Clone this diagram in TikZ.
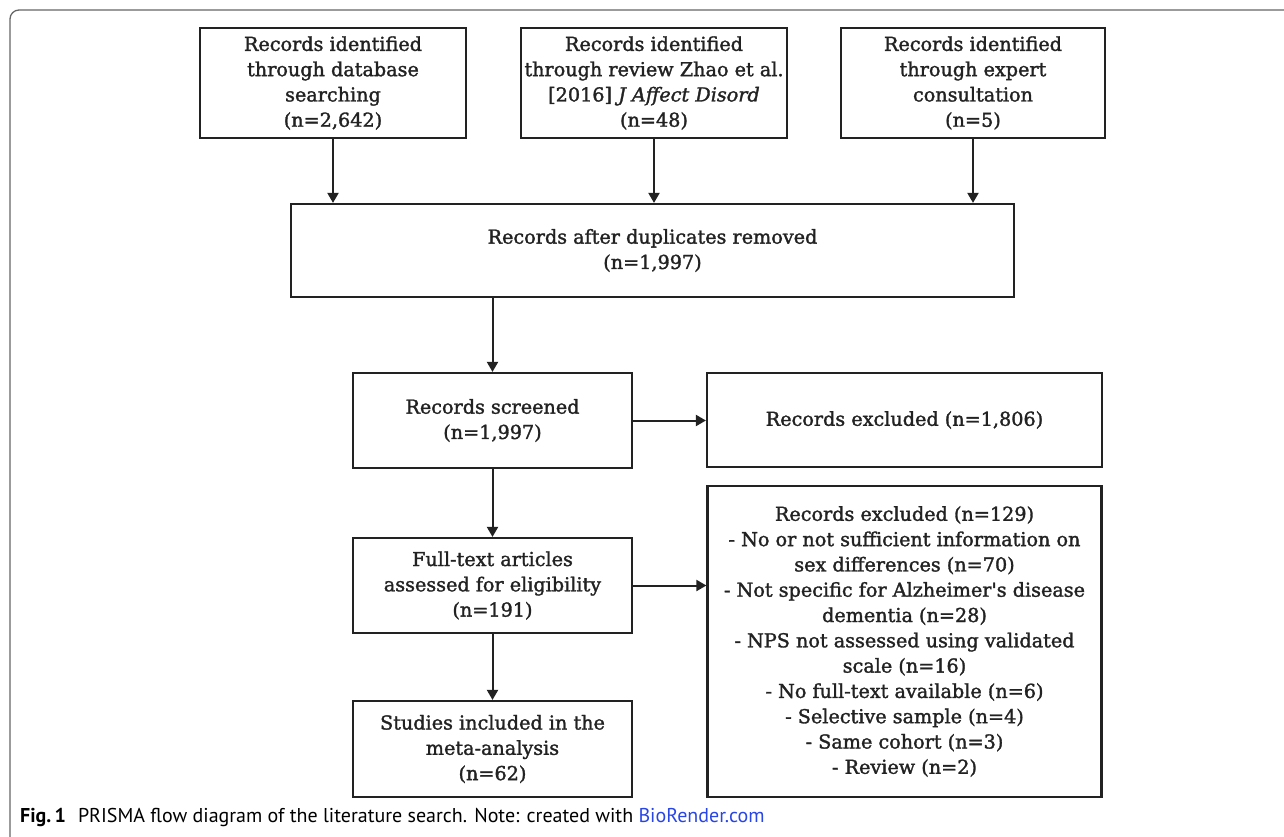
\documentclass[tikz,border=0pt]{standalone}
\usepackage{fontspec}
\setmainfont{DejaVu Serif}
\newfontfamily\boxfont{DejaVu Serif}[BoldFont={DejaVu Serif}, BoldFeatures={FakeBold=1.6},
  BoldItalicFont={DejaVu Serif Italic}, BoldItalicFeatures={FakeBold=1.6}]
\newfontfamily\capfont{PT Sans}
\usetikzlibrary{arrows.meta}
\definecolor{boxline}{HTML}{222222}
\definecolor{framecol}{HTML}{666666}
\definecolor{linkblue}{RGB}{40,70,230}
\tikzset{
  pbox/.style={draw=boxline, line width=2.2pt, align=center, inner sep=0pt,
    font=\boxfont\bfseries\fontsize{19.2}{25.3}\selectfont, text=boxline},
  flow/.style={draw=boxline, line width=2pt, -{Triangle[width=11pt,length=10pt]}}
}
\begin{document}
\begin{tikzpicture}[x=1pt,y=-1pt]
\useasboundingbox (0,0) rectangle (1284,837);
\draw[framecol, line width=1.3pt, rounded corners=9pt] (10,837) -- (10,10) -- (1284,10);

\node[pbox, minimum width=266pt, minimum height=110pt] (t1) at (333,83)
  {Records identified\\through database\\searching\\(n=2,642)};
\node[pbox, minimum width=266pt, minimum height=110pt] (t2) at (654,83)
  {Records identified\\through review Zhao et al.\\{[2016]} \textit{J Affect Disord}\\(n=48)};
\node[pbox, minimum width=264pt, minimum height=110pt] (t3) at (973,83)
  {Records identified\\through expert\\consultation\\(n=5)};
\node[pbox, minimum width=723pt, minimum height=93pt] (dup) at (652.5,250.5)
  {Records after duplicates removed\\(n=1,997)};
\node[pbox, minimum width=279pt, minimum height=95pt] (scr) at (492.5,420.5)
  {Records screened\\(n=1,997)};
\node[pbox, minimum width=395pt, minimum height=94pt] (ex1) at (904.5,420)
  {Records excluded (n=1,806)};
\node[pbox, minimum width=279pt, minimum height=95pt] (full) at (492.5,585.5)
  {Full-text articles\\assessed for eligibility\\(n=191)};
\node[pbox, minimum width=394pt, minimum height=311pt] (ex2) at (904.5,641.5)
  {Records excluded (n=129)\\- No or not sufficient information on\\sex differences (n=70)\\- Not specific for Alzheimer's disease\\dementia (n=28)\\- NPS not assessed using validated\\scale (n=16)\\- No full-text available (n=6)\\- Selective sample (n=4)\\- Same cohort (n=3)\\- Review (n=2)};
\node[pbox, minimum width=279pt, minimum height=96pt] (stud) at (492.5,749)
  {Studies included in the\\meta-analysis\\(n=62)};

\draw[flow] (t1.south) -- (t1.south |- dup.north);
\draw[flow] (t2.south) -- (t2.south |- dup.north);
\draw[flow] (t3.south) -- (t3.south |- dup.north);
\draw[flow] (dup.south -| scr.north) -- (scr.north);
\draw[flow] (scr.east) -- (scr.east -| ex1.west);
\draw[flow] (scr.south) -- (full.north);
\draw[flow] (full.east) -- (full.east -| ex2.west);
\draw[flow] (full.south) -- (stud.north);

\node[anchor=west, inner sep=0pt, font=\capfont\fontsize{20}{23}\selectfont] (cap) at (20,817)
  {\textbf{Fig.\,1}\hspace{0.6em}PRISMA flow diagram of the literature search. Note: created with \textcolor{linkblue}{BioRender.com}};
\end{tikzpicture}
\end{document}
